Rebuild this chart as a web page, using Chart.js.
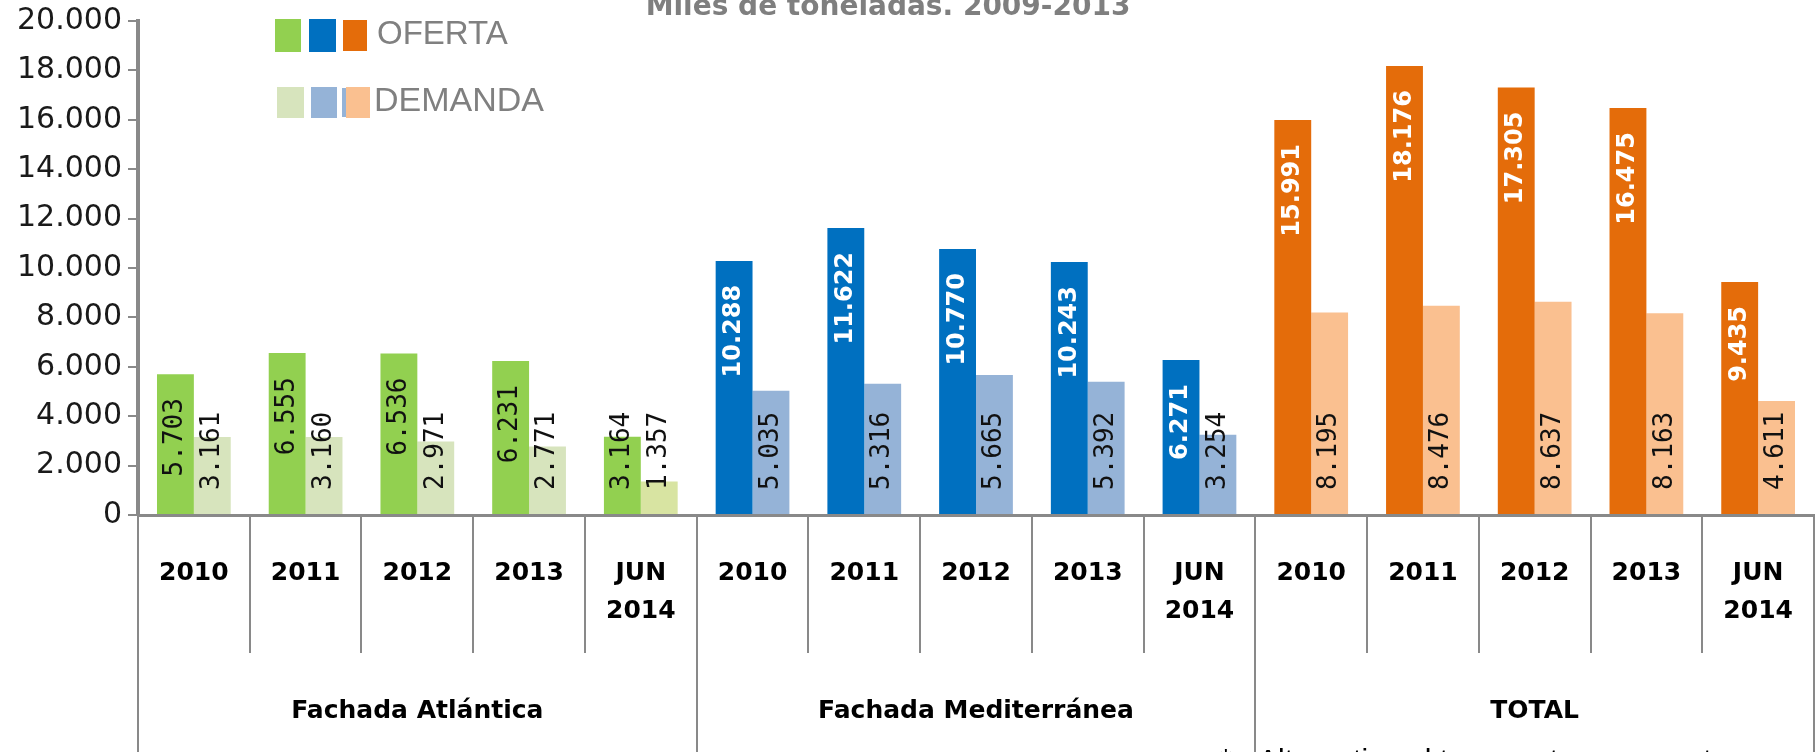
<!DOCTYPE html>
<html>
<head>
<meta charset="utf-8">
<script src="https://cdn.jsdelivr.net/npm/chart.js@4.4.0/dist/chart.umd.min.js"></script>
<style>
  html, body { margin: 0; padding: 0; background: #fff; }
  #wrap { width: 1820px; height: 752px; }
</style>
</head>
<body>
<div id="wrap"><canvas id="chart" width="1820" height="752"></canvas></div>
<script>
// data (miles de toneladas)
var years = ['2010', '2011', '2012', '2013', ['JUN', '2014']];
var groups = ['Fachada Atlántica', 'Fachada Mediterránea', 'TOTAL'];
var oferta = [5703, 6555, 6536, 6231, 3164, 10288, 11622, 10770, 10243, 6271, 15991, 18176, 17305, 16475, 9435];
var demanda = [3161, 3160, 2971, 2771, 1357, 5035, 5316, 5665, 5392, 3254, 8195, 8476, 8637, 8163, 4611];
var yMax = 20000;
var yStep = 2000;

var ofertaColors = ['#92D050', '#0070C0', '#E46C0A'];
var demandaColors = ['#D7E4BD', '#95B3D7', '#FAC090'];
var axisGray = '#898989';

var labels = [];
groups.forEach(function() { years.forEach(function(y) { labels.push(y); }); });

function fmt(v) {
  return String(v).replace(/\B(?=(\d{3})+(?!\d))/g, '.');
}

var ofertaBg = oferta.map(function(v, i) { return ofertaColors[Math.floor(i / years.length)]; });
var demandaBg = demanda.map(function(v, i) { return demandaColors[Math.floor(i / years.length)]; });
demandaBg[4] = '#D8E4A2'; // jun 2014 atlantica is a bit more yellow

// vertical value labels inside the bars
var barLabels = {
  id: 'barLabels',
  afterDatasetsDraw: function(chart) {
    var ctx = chart.ctx;
    chart.data.datasets.forEach(function(ds, di) {
      var meta = chart.getDatasetMeta(di);
      meta.data.forEach(function(el, i) {
        var txt = fmt(ds.data[i]);
        var g = Math.floor(i / years.length);
        ctx.save();
        if (di === 0 && g > 0) {
          ctx.font = 'bold 24px "DejaVu Sans"';
          ctx.fillStyle = '#ffffff';
        } else {
          ctx.font = '26px "DejaVu Sans Mono"';
          ctx.fillStyle = '#111111';
        }
        var len = ctx.measureText(txt).width;
        var bottom;
        if (di === 0) {
          bottom = el.y + 24 + len;
          if (bottom > el.base - 24) bottom = el.base - 24;
        } else {
          bottom = el.base - 24;
        }
        ctx.translate(el.x, bottom);
        ctx.rotate(-Math.PI / 2);
        ctx.textAlign = 'left';
        ctx.textBaseline = 'middle';
        ctx.fillText(txt, 0, 0);
        ctx.restore();
      });
    });
  }
};

// title, legend, group boxes and footnote
var decorations = {
  id: 'decorations',
  afterDraw: function(chart) {
    var ctx = chart.ctx;
    var xs = chart.scales.x;
    var n = labels.length;
    var w = (xs.right - xs.left) / n;
    ctx.save();

    // title (cut at the top like the original)
    ctx.font = 'bold 28px "DejaVu Sans"';
    ctx.fillStyle = '#7f7f7f';
    ctx.textAlign = 'center';
    ctx.textBaseline = 'alphabetic';
    ctx.fillText('Miles de toneladas. 2009-2013', 888, 15);

    // legend
    ctx.fillStyle = ofertaColors[0]; ctx.fillRect(275, 19, 26, 33);
    ctx.fillStyle = ofertaColors[1]; ctx.fillRect(309, 19, 27, 33);
    ctx.fillStyle = ofertaColors[2]; ctx.fillRect(343, 20, 24, 31);
    ctx.fillStyle = demandaColors[0]; ctx.fillRect(277, 87, 27, 31);
    ctx.fillStyle = demandaColors[1]; ctx.fillRect(311, 87, 26, 31);
    ctx.fillRect(342, 88, 5, 29);
    ctx.fillStyle = demandaColors[2]; ctx.fillRect(346, 87, 24, 31);
    ctx.font = '33px "Liberation Sans"';
    ctx.fillStyle = '#808080';
    ctx.textAlign = 'left';
    ctx.textBaseline = 'middle';
    ctx.fillText('OFERTA', 377, 35);
    ctx.font = '34px "Liberation Sans"';
    ctx.fillText('DEMANDA', 374, 102);

    // group separators running to the bottom
    ctx.strokeStyle = axisGray;
    ctx.lineWidth = 2;
    for (var k = 0; k <= groups.length; k++) {
      var gx = Math.round(xs.left + k * years.length * w);
      ctx.beginPath();
      ctx.moveTo(gx, xs.top);
      ctx.lineTo(gx, 752);
      ctx.stroke();
    }

    // group names
    ctx.font = 'bold 25px "DejaVu Sans"';
    ctx.fillStyle = '#000000';
    ctx.textAlign = 'center';
    groups.forEach(function(name, k) {
      var cx = xs.left + (k * years.length + years.length / 2) * w;
      ctx.fillText(name, cx, 711);
    });

    // footnote, mostly cut off
    ctx.font = '30px "Liberation Sans"';
    ctx.textAlign = 'left';
    ctx.textBaseline = 'top';
    ctx.fillText('*', 1220, 746);
    ctx.fillText('Alternativa al transporte por carretera', 1258, 747);
    ctx.restore();
  }
};

new Chart(document.getElementById('chart'), {
  type: 'bar',
  data: {
    labels: labels,
    datasets: [
      { label: 'OFERTA', data: oferta, backgroundColor: ofertaBg, borderWidth: 0 },
      { label: 'DEMANDA', data: demanda, backgroundColor: demandaBg, borderWidth: 0 }
    ]
  },
  options: {
    responsive: false,
    animation: false,
    devicePixelRatio: 1,
    layout: { padding: { top: 0, right: 6, left: 0, bottom: 0 } },
    datasets: { bar: { categoryPercentage: 0.66, barPercentage: 1.0 } },
    plugins: {
      legend: { display: false },
      tooltip: { enabled: false },
      title: { display: false }
    },
    scales: {
      x: {
        offset: true,
        grid: { offset: true, drawOnChartArea: false, drawTicks: true, tickLength: 138, color: axisGray, lineWidth: 2 },
        border: { color: axisGray, width: 3 },
        ticks: {
          autoSkip: false,
          maxRotation: 0,
          minRotation: 0,
          padding: -99,
          color: '#000000',
          font: { family: 'DejaVu Sans', size: 25, weight: 'bold', lineHeight: 1.52 }
        },
        afterFit: function(scale) { scale.height = 237; }
      },
      y: {
        min: 0,
        max: yMax,
        grid: { drawOnChartArea: false, drawTicks: true, tickLength: 10, color: axisGray, lineWidth: 2 },
        border: { color: axisGray, width: 4 },
        ticks: {
          stepSize: yStep,
          padding: 6,
          color: '#1a1a1a',
          font: { family: 'DejaVu Sans', size: 30 },
          callback: function(v) { return fmt(v); }
        },
        afterFit: function(scale) {
          scale.width = 138;
          scale.paddingTop = 21;
          scale.paddingBottom = 0;
        }
      }
    }
  },
  plugins: [barLabels, decorations]
});
</script>
</body>
</html>
